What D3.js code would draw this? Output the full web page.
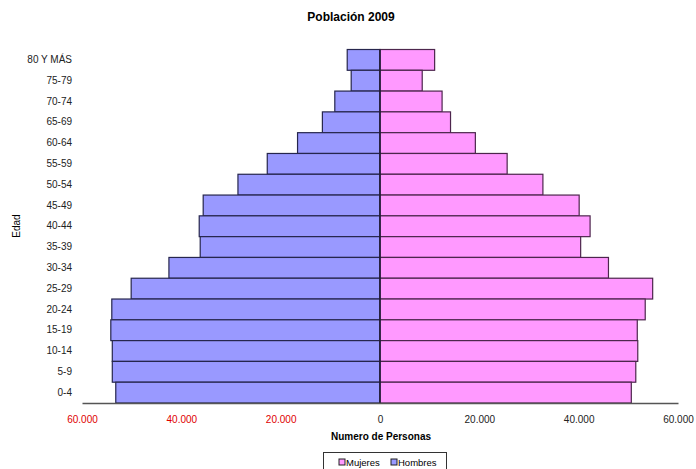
<!DOCTYPE html>
<html>
<head>
<meta charset="utf-8">
<script src="https://cdn.jsdelivr.net/npm/d3@7"></script>
<style>
    body { margin: 0; background: #fff; }
    svg text { font-family: "Liberation Sans", Arial, sans-serif; }
</style>
</head>
<body>
<div id="pyramid"></div>
<script>
const ageGroups = ["80 Y MÁS", "75-79", "70-74", "65-69", "60-64", "55-59", "50-54", "45-49",
    "40-44", "35-39", "30-34", "25-29", "20-24", "15-19", "10-14", "5-9", "0-4"];
const hombres = [6600, 5800, 9100, 11600, 16600, 22700, 28600, 35600,
    36400, 36200, 42500, 50100, 54000, 54200, 53900, 53900, 53200];
const mujeres = [11000, 8500, 12500, 14200, 19200, 25600, 32800, 40100,
    42300, 40400, 46000, 54900, 53400, 51800, 51900, 51500, 50600];
const xTicks = [-60000, -40000, -20000, 0, 20000, 40000, 60000];

const width = 696, height = 469;
const margin = {top: 49.5, right: 18, bottom: 66, left: 82};

const svg = d3.select("#pyramid")
    .append("svg")
    .attr("width", width)
    .attr("height", height);

const x = d3.scaleLinear()
    .domain([-60000, 60000])
    .range([margin.left, width - margin.right]);

const y = d3.scaleBand()
    .domain(ageGroups)
    .range([margin.top, height - margin.bottom])
    .padding(0);

// title
svg.append("text")
    .attr("x", 351).attr("y", 21)
    .attr("text-anchor", "middle")
    .style("font-size", "12px").style("font-weight", "bold")
    .text("Población 2009");

// bars - hombres to the left
svg.selectAll(".hombres")
    .data(ageGroups)
    .enter()
    .append("rect")
    .attr("x", (d, i) => x(-hombres[i]))
    .attr("y", d => y(d))
    .attr("width", (d, i) => x(0) - x(-hombres[i]))
    .attr("height", y.bandwidth())
    .attr("fill", "#9999ff")
    .attr("stroke", "#26264d")
    .attr("stroke-width", 1.2);

// bars - mujeres to the right
svg.selectAll(".mujeres")
    .data(ageGroups)
    .enter()
    .append("rect")
    .attr("x", x(0))
    .attr("y", d => y(d))
    .attr("width", (d, i) => x(mujeres[i]) - x(0))
    .attr("height", y.bandwidth())
    .attr("fill", "#ff99ff")
    .attr("stroke", "#4d264d")
    .attr("stroke-width", 1.2);

// center line
svg.append("line")
    .attr("x1", x(0)).attr("x2", x(0))
    .attr("y1", margin.top).attr("y2", height - margin.bottom)
    .attr("stroke", "#1a1a33").attr("stroke-width", 1.5);

// x axis
const xAxis = svg.append("g")
    .attr("transform", `translate(0,${height - margin.bottom})`)
    .call(d3.axisBottom(x).tickValues(xTicks).tickSize(0).tickPadding(13)
        .tickFormat(v => v === 0 ? "0" : d3.format(".3f")(Math.abs(v) / 1000)));
xAxis.select(".domain").attr("stroke", "#555").attr("stroke-width", 1.5);
xAxis.selectAll("text")
    .style("font-size", "10px")
    .attr("fill", d => d < 0 ? "#e00000" : "#222");

// y axis labels
const yAxis = svg.append("g")
    .attr("transform", `translate(${margin.left - 10},0)`)
    .call(d3.axisLeft(y).tickSize(0).tickPadding(0));
yAxis.select(".domain").remove();
yAxis.selectAll("text").style("font-size", "10px").attr("fill", "#222");

// axis titles
svg.append("text")
    .attr("x", 381).attr("y", 440)
    .attr("text-anchor", "middle")
    .style("font-size", "10px").style("font-weight", "bold")
    .text("Numero de Personas");

svg.append("text")
    .attr("transform", "translate(20,226) rotate(-90)")
    .attr("text-anchor", "middle")
    .style("font-size", "10px")
    .text("Edad");

// legend
const legend = svg.append("g");
legend.append("rect")
    .attr("x", 323.5).attr("y", 452.5)
    .attr("width", 123).attr("height", 20)
    .attr("fill", "#fff").attr("stroke", "#333");
const items = [
    {label: "Mujeres", color: "#ff99ff", x: 339},
    {label: "Hombres", color: "#9999ff", x: 391}
];
items.forEach(it => {
    legend.append("rect")
        .attr("x", it.x).attr("y", 459)
        .attr("width", 6).attr("height", 6)
        .attr("fill", it.color).attr("stroke", "#222");
    legend.append("text")
        .attr("x", it.x + 7).attr("y", 466)
        .style("font-size", "9.5px")
        .text(it.label);
});
</script>
</body>
</html>
